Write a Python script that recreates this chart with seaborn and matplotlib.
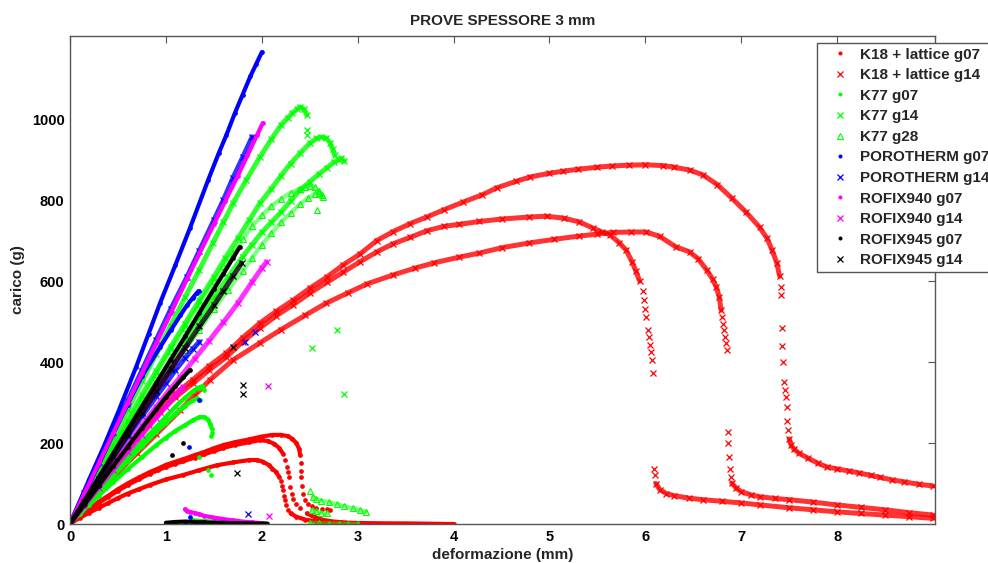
import matplotlib
matplotlib.use("Agg")
import matplotlib.pyplot as plt
from matplotlib.lines import Line2D
import seaborn as sns

# values: deformazione (mm) vs carico (g)
# each curve is ([x...], [y...]); "band" = dense run of markers, "pts" = scattered markers

# K18 + lattice g07 (red dots)
k18_g07_a = ([0, 0.1, 0.2, 0.3, 0.4, 0.5, 0.6, 0.72, 0.83, 0.92, 1.0, 1.1, 1.18, 1.3, 1.4, 1.5, 1.6, 1.72, 1.87, 2.0, 2.11, 2.2, 2.27, 2.32, 2.36, 2.39, 2.4],
             [0, 20, 38, 55, 70, 86, 100, 115, 128, 137, 146, 154, 160, 170, 178, 187, 195, 202, 209, 216, 220, 220, 217, 210, 200, 185, 170])
k18_g07_a_pts = ([2.41, 2.41, 2.41, 2.42, 2.43, 2.45, 2.48, 2.52, 2.57, 2.63, 2.68, 2.71],
                 [150, 130, 115, 95, 75, 60, 50, 44, 40, 37, 36, 35])
k18_g07_b = ([0, 0.1, 0.2, 0.3, 0.4, 0.5, 0.6, 0.72, 0.83, 0.92, 1.0, 1.1, 1.18, 1.3, 1.4, 1.5, 1.6, 1.72, 1.87, 1.98, 2.06, 2.13, 2.18, 2.22],
             [0, 19, 36, 52, 67, 82, 96, 111, 124, 133, 141, 149, 155, 164, 172, 180, 188, 195, 202, 207, 205, 198, 188, 174])
k18_g07_b_pts = ([2.24, 2.26, 2.27, 2.28, 2.29, 2.31, 2.33, 2.36, 2.4],
                 [158, 141, 128, 115, 92, 75, 62, 50, 40])
k18_g07_b_tail = ([2.47, 2.55, 2.64, 2.75, 2.92, 3.1, 3.3, 3.5, 3.7, 3.9, 4.0],
                  [26, 17, 10, 6, 3, 2, 1, 1, 0.5, 0, 0])
k18_g07_c = ([0, 0.1, 0.2, 0.3, 0.4, 0.5, 0.6, 0.72, 0.83, 1.0, 1.18, 1.35, 1.53, 1.7, 1.87, 1.95, 2.01, 2.07, 2.11, 2.15, 2.18],
             [0, 15, 28, 40, 52, 64, 75, 86, 96, 110, 121, 133, 145, 152, 158, 158, 154, 146, 137, 128, 117])
k18_g07_c_pts = ([2.2, 2.21, 2.22, 2.23, 2.24, 2.25, 2.27],
                 [105, 95, 84, 70, 59, 47, 35])
k18_g07_c_tail = ([2.3, 2.36, 2.45, 2.57, 2.75, 2.92, 3.1, 3.3, 3.6, 3.9],
                  [26, 18, 11, 6, 3, 2, 1, 1, 0.5, 0])

# K18 + lattice g14 (red crosses)
k18_g14_a = ([0, 0.1, 0.2, 0.3, 0.45, 0.6, 0.7, 0.82, 0.94, 1.1, 1.28, 1.45, 1.63, 1.8, 1.98, 2.15, 2.33, 2.5, 2.68, 2.85, 3.02, 3.2, 3.37, 3.55, 3.72, 3.9, 4.1, 4.3, 4.45, 4.65, 4.8, 5.0, 5.14, 5.3, 5.5, 5.65, 5.83, 6.0, 6.18, 6.3, 6.46, 6.6, 6.75, 6.9, 7.05, 7.19, 7.27, 7.32, 7.37, 7.4],
             [0, 35, 68, 100, 145, 188, 218, 252, 285, 322, 356, 390, 422, 460, 496, 525, 553, 582, 610, 640, 666, 700, 722, 742, 758, 776, 795, 813, 830, 846, 857, 866, 871, 876, 881, 884, 886, 887, 885, 881, 874, 862, 838, 805, 770, 733, 705, 677, 645, 612])
k18_g14_a_pts = ([7.41, 7.41, 7.42, 7.42, 7.43, 7.45, 7.46, 7.47, 7.48, 7.48, 7.49],
                 [585, 565, 484, 440, 400, 350, 330, 314, 289, 255, 232])
k18_g14_a_tail = ([7.5, 7.52, 7.55, 7.6, 7.7, 7.8, 7.89, 8.0, 8.12, 8.23, 8.35, 8.45, 8.57, 8.7, 8.85, 9.0],
                  [210, 195, 185, 175, 162, 150, 141, 136, 131, 126, 120, 115, 109, 104, 98, 94])
k18_g14_b = ([0, 0.1, 0.2, 0.3, 0.45, 0.6, 0.7, 0.82, 0.94, 1.1, 1.28, 1.45, 1.63, 1.8, 1.98, 2.15, 2.33, 2.5, 2.68, 2.85, 3.02, 3.2, 3.37, 3.55, 3.72, 3.9, 4.06, 4.27, 4.5, 4.79, 4.97, 5.15, 5.31, 5.45, 5.55, 5.63, 5.73, 5.8, 5.86, 5.9, 5.94],
             [0, 34, 66, 97, 140, 182, 211, 244, 277, 313, 347, 380, 412, 450, 484, 514, 542, 570, 597, 622, 647, 672, 692, 708, 724, 735, 740, 747, 753, 758, 760, 755, 746, 731, 721, 714, 694, 676, 648, 625, 600])
k18_g14_b_pts = ([5.97, 5.99, 6.0, 6.01, 6.03, 6.04, 6.05, 6.06, 6.07, 6.08, 6.09, 6.1],
                 [575, 553, 530, 511, 480, 462, 442, 425, 405, 372, 135, 120])
k18_g14_b_tail = ([6.11, 6.15, 6.22, 6.3, 6.45, 6.6, 6.8, 7.0, 7.2, 7.5, 7.75, 8.0, 8.25, 8.5, 8.75, 9.0],
                  [100, 85, 75, 70, 64, 60, 56, 52, 47, 40, 35, 30, 26, 22, 18, 14])
k18_g14_c = ([0, 0.1, 0.2, 0.35, 0.5, 0.7, 0.9, 1.15, 1.3, 1.46, 1.7, 1.98, 2.2, 2.45, 2.67, 2.9, 3.1, 3.37, 3.6, 3.8, 4.06, 4.27, 4.5, 4.79, 5.05, 5.31, 5.5, 5.66, 5.85, 6.01, 6.15, 6.32, 6.46, 6.55, 6.64, 6.7, 6.74, 6.77, 6.79],
             [0, 28, 55, 92, 128, 175, 222, 281, 318, 356, 405, 447, 480, 515, 545, 571, 593, 615, 632, 645, 659, 669, 682, 694, 703, 711, 716, 720, 721, 721, 710, 684, 672, 655, 627, 605, 585, 560, 528])
k18_g14_c_pts = ([6.8, 6.81, 6.82, 6.83, 6.84, 6.85, 6.86, 6.86, 6.87, 6.88, 6.89],
                 [510, 495, 478, 462, 447, 430, 227, 200, 165, 135, 116])
k18_g14_c_tail = ([6.9, 6.95, 7.0, 7.1, 7.2, 7.35, 7.5, 7.75, 8.0, 8.25, 8.5, 8.75, 9.0],
                  [101, 88, 80, 72, 67, 63, 60, 54, 47, 41, 35, 28, 22])

# K77 g07 (green dots)
k77_g07_a = ([0, 0.1, 0.2, 0.3, 0.45, 0.6, 0.75, 0.9, 1.0, 1.1, 1.2, 1.28, 1.34, 1.38, 1.4],
             [0, 29, 57, 85, 126, 165, 203, 240, 265, 290, 312, 328, 337, 340, 332])
k77_g07_b = ([0, 0.1, 0.2, 0.3, 0.45, 0.6, 0.75, 0.9, 1.0, 1.1, 1.2, 1.28, 1.32, 1.36],
             [0, 27, 54, 80, 118, 155, 192, 228, 250, 272, 292, 305, 310, 305])
k77_g07_c = ([0, 0.1, 0.2, 0.3, 0.45, 0.6, 0.75, 0.9, 1.0, 1.1, 1.2, 1.28, 1.35, 1.4, 1.44, 1.46, 1.48],
             [0, 24, 47, 70, 103, 135, 165, 195, 213, 230, 244, 256, 264, 264, 258, 248, 235])
k77_g07_pts = ([1.48, 1.47, 1.35, 1.44, 1.47], [224, 218, 166, 134, 121])
k77_g07_low = ([1.28, 1.35, 1.42, 1.5, 1.58, 1.66, 1.75, 1.85, 1.95, 2.05],
               [9, 8, 7, 6, 6, 5, 4, 3, 2, 2])

# K77 g14 (green crosses)
k77_g14_a = ([0, 0.15, 0.3, 0.45, 0.6, 0.75, 0.9, 1.05, 1.2, 1.35, 1.49, 1.6, 1.7, 1.84, 1.98, 2.1, 2.2, 2.27, 2.32, 2.37, 2.4, 2.44, 2.47],
             [0, 70, 140, 212, 282, 352, 420, 490, 560, 628, 694, 745, 792, 850, 906, 950, 985, 1003, 1015, 1025, 1030, 1024, 1010])
k77_g14_b = ([0, 0.15, 0.3, 0.45, 0.6, 0.75, 0.9, 1.05, 1.2, 1.35, 1.5, 1.62, 1.75, 1.87, 1.98, 2.1, 2.2, 2.3, 2.4, 2.5, 2.57, 2.62, 2.67, 2.71, 2.74, 2.76],
             [0, 64, 128, 192, 255, 318, 378, 437, 495, 553, 610, 657, 705, 750, 792, 828, 860, 890, 916, 940, 952, 956, 953, 942, 925, 910])
k77_g14_c = ([0, 0.15, 0.3, 0.45, 0.6, 0.75, 0.9, 1.05, 1.2, 1.35, 1.5, 1.65, 1.8, 1.9, 2.0, 2.1, 2.2, 2.3, 2.4, 2.5, 2.6, 2.68, 2.75, 2.8, 2.83, 2.86],
             [0, 59, 118, 177, 235, 292, 348, 402, 455, 508, 560, 610, 660, 690, 720, 745, 770, 798, 825, 845, 865, 880, 893, 900, 903, 896])
k77_g14_pts = ([2.47, 2.47, 2.52, 2.78, 2.86], [973, 960, 435, 479, 321])

# K77 g28 (green triangles)
k77_g28_a = ([0, 0.15, 0.3, 0.45, 0.6, 0.75, 0.9, 1.05, 1.2, 1.35, 1.5, 1.6, 1.7, 1.8, 1.9, 2.0, 2.1, 2.2, 2.3, 2.4, 2.45, 2.5, 2.55, 2.6, 2.63],
             [0, 63, 125, 188, 250, 310, 370, 428, 485, 543, 600, 636, 670, 703, 735, 762, 785, 803, 818, 828, 832, 834, 831, 822, 812])
k77_g28_b = ([0, 0.15, 0.3, 0.45, 0.6, 0.75, 0.9, 1.05, 1.2, 1.35, 1.5, 1.65, 1.8, 1.9, 2.0, 2.1, 2.2, 2.3, 2.4, 2.48, 2.55, 2.6, 2.64],
             [0, 56, 112, 167, 222, 276, 330, 380, 430, 480, 530, 578, 625, 658, 690, 718, 745, 768, 790, 805, 815, 818, 808])
k77_g28_pts = ([2.58, 2.5], [775, 81])
k77_g28_tail1 = ([2.53, 2.57, 2.62, 2.7, 2.78, 2.86, 2.95, 3.02, 3.09], [66, 62, 58, 54, 49, 44, 39, 34, 30])
k77_g28_tail2 = ([2.52, 2.57, 2.62, 2.68], [34, 31, 28, 26])
k77_g28_low = ([2.5, 2.6, 2.7, 2.8, 2.9, 3.0], [3, 2, 1, 1, 0, 0])

# POROTHERM g07 (blue dots)
poro_g07_a = ([0, 0.1, 0.2, 0.35, 0.5, 0.69, 0.82, 0.94, 1.1, 1.25, 1.44, 1.55, 1.63, 1.72, 1.8, 1.88, 1.94, 2.0],
              [0, 55, 110, 190, 275, 388, 470, 546, 640, 730, 849, 915, 960, 1015, 1060, 1105, 1135, 1165])
poro_g07_b = ([0, 0.15, 0.3, 0.45, 0.6, 0.75, 0.94, 1.05, 1.15, 1.22, 1.28, 1.32, 1.34],
              [0, 73, 147, 222, 295, 365, 437, 478, 515, 540, 558, 570, 575])
poro_g07_pts = ([1.24, 1.34, 1.25], [190, 306, 17])

# POROTHERM g14 (blue crosses)
poro_g14_a = ([0, 0.15, 0.3, 0.45, 0.6, 0.75, 0.9, 1.05, 1.22, 1.35, 1.5, 1.6, 1.7, 1.8, 1.9],
              [0, 76, 152, 228, 303, 379, 455, 530, 610, 675, 750, 800, 855, 905, 956])
poro_g14_b = ([0, 0.15, 0.3, 0.45, 0.6, 0.75, 0.9, 1.0, 1.1, 1.2, 1.28, 1.35],
              [0, 55, 110, 163, 215, 266, 315, 347, 380, 410, 432, 450])
poro_g14_pts = ([1.82, 1.93, 1.86], [449, 474, 25])

# ROFIX940 g07 (magenta dots)
r940_g07_a = ([0, 0.15, 0.3, 0.45, 0.6, 0.75, 0.9, 1.05, 1.22, 1.35, 1.5, 1.62, 1.75, 1.85, 1.95, 2.01],
              [0, 75, 150, 224, 298, 372, 446, 520, 605, 668, 740, 798, 860, 910, 960, 990])
r940_g07_b = ([0, 0.15, 0.3, 0.45, 0.6, 0.75, 0.9, 1.0, 1.1, 1.17, 1.22],
              [0, 58, 115, 170, 225, 278, 330, 365, 400, 425, 442])
r940_g07_low = ([1.2, 1.22, 1.25, 1.3, 1.35, 1.4, 1.5, 1.6, 1.7, 1.8, 1.9, 2.0, 2.05],
                [36, 32, 30, 27, 24, 20, 16, 12, 9, 6, 4, 2, 1])

# ROFIX940 g14 (magenta crosses)
r940_g14_a = ([0, 0.15, 0.3, 0.45, 0.6, 0.75, 0.9, 1.05, 1.15, 1.3, 1.45, 1.6, 1.75, 1.9, 2.0, 2.05],
              [0, 50, 100, 148, 195, 243, 290, 335, 363, 408, 452, 498, 545, 598, 632, 647])
r940_g14_b = ([0, 0.15, 0.3, 0.45, 0.6, 0.75, 0.9, 1.0, 1.1, 1.15, 1.18],
              [0, 45, 90, 134, 178, 220, 262, 290, 318, 330, 338])
r940_g14_pts = ([2.06, 2.08], [341, 20])

# ROFIX945 g07 (black dots)
r945_g07_a = ([0, 0.15, 0.3, 0.45, 0.6, 0.75, 0.9, 1.05, 1.2, 1.35, 1.5, 1.6, 1.7, 1.77],
              [0, 58, 115, 174, 232, 290, 348, 406, 463, 522, 580, 618, 657, 684])
r945_g07_b = ([0, 0.15, 0.3, 0.45, 0.6, 0.75, 0.9, 1.0, 1.1, 1.18, 1.25],
              [0, 48, 95, 143, 190, 237, 283, 313, 340, 362, 380])
r945_g07_pts = ([1.06, 1.18], [170, 200])
r945_g07_low = ([1.0, 1.1, 1.2, 1.3, 1.4, 1.5, 1.6, 1.7, 1.8, 1.9, 2.0, 2.05],
                [3, 5, 6, 5, 4, 3, 3, 2, 2, 1, 1, 0])

# ROFIX945 g14 (black crosses)
r945_g14_a = ([0, 0.15, 0.3, 0.45, 0.6, 0.75, 0.9, 1.05, 1.2, 1.35, 1.5, 1.6, 1.7, 1.79],
              [0, 55, 110, 165, 220, 274, 328, 382, 435, 488, 540, 576, 612, 644])
r945_g14_pts = ([1.8, 1.8, 1.74, 1.70], [343, 320, 126, 437])

x_ticks = [0, 1, 2, 3, 4, 5, 6, 7, 8]
y_ticks = [0, 200, 400, 600, 800, 1000]

# legend label, colour, marker, dense runs, scattered points
series = [
    ("K18 + lattice g07", "#ff0000", "o", [k18_g07_a, k18_g07_b, k18_g07_b_tail, k18_g07_c, k18_g07_c_tail],
     [k18_g07_a_pts, k18_g07_b_pts, k18_g07_c_pts]),
    ("K18 + lattice g14", "#ff0000", "x", [k18_g14_a, k18_g14_a_tail, k18_g14_b, k18_g14_b_tail, k18_g14_c, k18_g14_c_tail],
     [k18_g14_a_pts, k18_g14_b_pts, k18_g14_c_pts]),
    ("K77 g07", "#00ff00", "o", [k77_g07_a, k77_g07_b, k77_g07_c, k77_g07_low], [k77_g07_pts]),
    ("K77 g14", "#00ff00", "x", [k77_g14_a, k77_g14_b, k77_g14_c], [k77_g14_pts]),
    ("K77 g28", "#00ff00", "^", [k77_g28_a, k77_g28_b, k77_g28_tail1, k77_g28_tail2, k77_g28_low], [k77_g28_pts]),
    ("POROTHERM g07", "#0000ff", "o", [poro_g07_a, poro_g07_b], [poro_g07_pts]),
    ("POROTHERM g14", "#0000ff", "x", [poro_g14_a, poro_g14_b], [poro_g14_pts]),
    ("ROFIX940 g07", "#ff00ff", "o", [r940_g07_a, r940_g07_b, r940_g07_low], []),
    ("ROFIX940 g14", "#ff00ff", "x", [r940_g14_a, r940_g14_b], [r940_g14_pts]),
    ("ROFIX945 g07", "#000000", "o", [r945_g07_a, r945_g07_b, r945_g07_low], [r945_g07_pts]),
    ("ROFIX945 g14", "#000000", "x", [r945_g14_a], [r945_g14_pts]),
]

sns.set_style("white")
plt.rcParams['font.family'] = ['Liberation Sans', 'DejaVu Sans']
plt.rcParams['font.weight'] = 'bold'

fig = plt.figure(figsize=(9.88, 5.63), dpi=100)
ax = fig.add_axes([70 / 988, 39 / 563, 865 / 988, 488 / 563])


def marker_kw(color, marker, size=1.0):
    if marker == "o":
        return dict(marker="o", ms=3.4 * size, markerfacecolor=color, markeredgecolor=color, markeredgewidth=0)
    if marker == "^":
        return dict(marker="^", ms=4.8 * size, markerfacecolor="none", markeredgecolor=color, markeredgewidth=0.8)
    return dict(marker="x", ms=5 * size, markerfacecolor=color, markeredgecolor=color, markeredgewidth=0.9)


for label, color, marker, runs, pts in series:
    line_alpha = 0.5 if marker == "^" else (0.8 if marker == "x" else 1.0)
    line_w = 3.6 if marker == "x" else 3.0
    for xs, ys in runs:
        sns.lineplot(x=xs, y=ys, sort=False, estimator=None, color=color, lw=line_w, alpha=line_alpha,
                     ax=ax, legend=False)
        sns.lineplot(x=xs, y=ys, sort=False, estimator=None, color=color, linestyle="none",
                     ax=ax, legend=False, **marker_kw(color, marker))
    for xs, ys in pts:
        sns.lineplot(x=xs, y=ys, sort=False, estimator=None, color=color, linestyle="none",
                     ax=ax, legend=False, **marker_kw(color, marker))

ax.set_xlim(0, 9.02)
ax.set_ylim(0, 1205)
ax.set_xticks(x_ticks)
ax.set_yticks(y_ticks)
ax.tick_params(direction="in", top=True, right=True, length=5, width=0.8, color="#555555",
               labelsize=10.5, pad=4, labelcolor="black")
for sp in ax.spines.values():
    sp.set_visible(True)
    sp.set_color("#555555")
    sp.set_linewidth(1.0)

ax.set_title("PROVE SPESSORE 3 mm", fontsize=11, fontweight="bold", pad=8)
ax.set_xlabel("deformazione (mm)", fontsize=11, fontweight="bold", labelpad=3)
ax.set_ylabel("carico (g)", fontsize=11, fontweight="bold", labelpad=5)

handles = []
for label, color, marker, runs, pts in series:
    handles.append(Line2D([], [], linestyle="none", **marker_kw(color, marker, 0.85)))
leg = ax.legend(handles, [s[0] for s in series], loc="upper left",
                bbox_to_anchor=(817 / 988, 1 - 43 / 563), bbox_transform=fig.transFigure,
                frameon=True, fancybox=False, framealpha=1, edgecolor="#555555",
                prop={"weight": "bold", "size": 11}, borderaxespad=0, borderpad=0.3,
                labelspacing=0.43, handlelength=2.4, handletextpad=0.1)
leg.get_frame().set_linewidth(1.0)

fig.savefig("out.png", dpi=100)
